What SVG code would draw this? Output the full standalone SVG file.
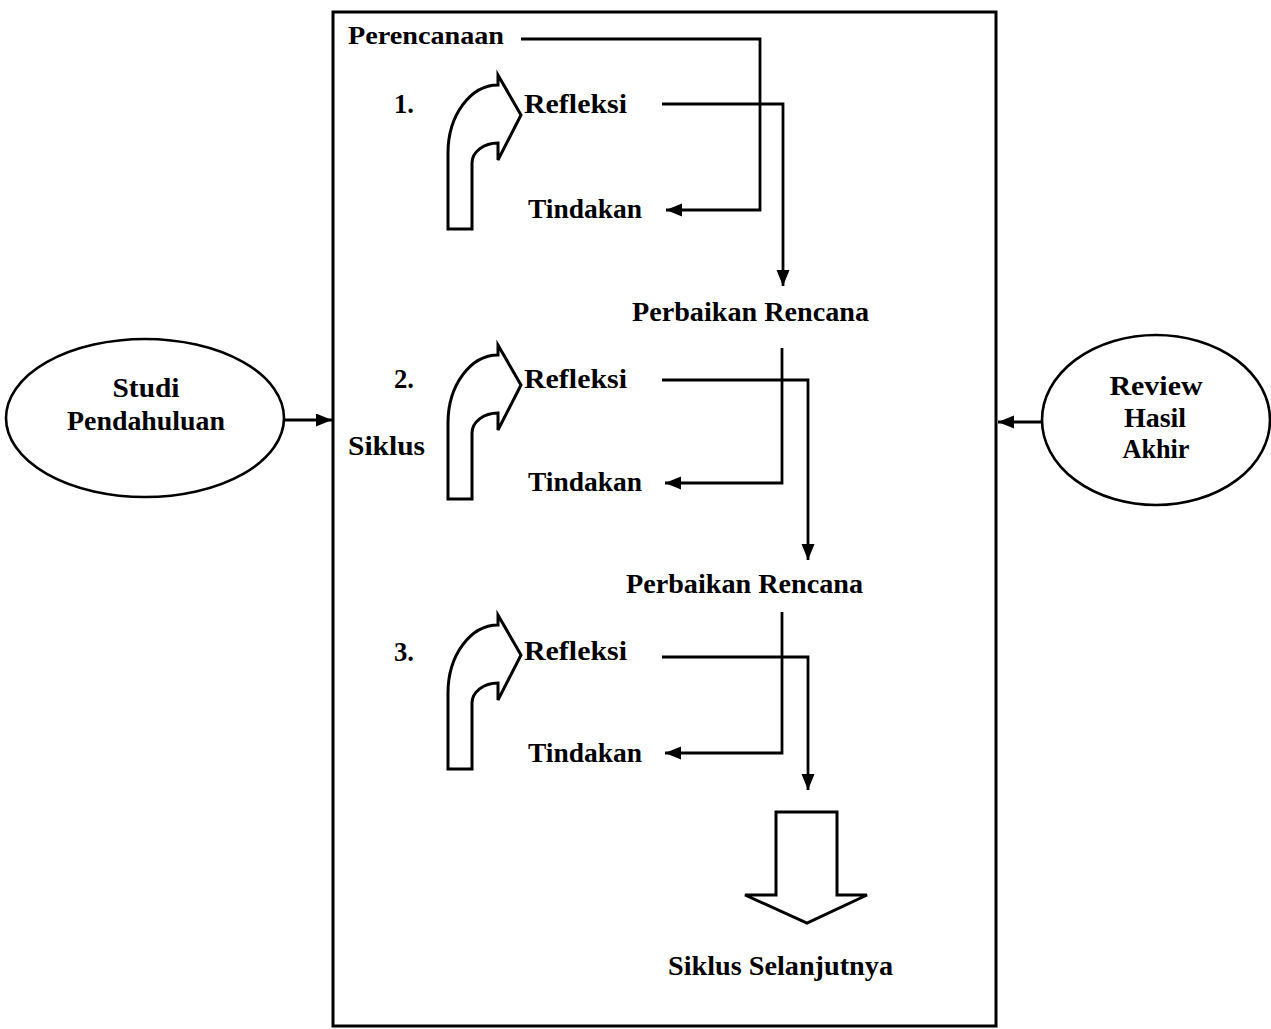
<svg xmlns="http://www.w3.org/2000/svg" width="1271" height="1029" viewBox="0 0 1271 1029">
<style>
text{font-family:"Liberation Serif","Times New Roman",serif;font-weight:bold;fill:#000;}
.t{font-size:28px;}
.c{stroke:#000;stroke-width:2.8;fill:none;}
.sh{stroke:#000;stroke-width:3;fill:#fff;stroke-linejoin:miter;}
</style>
<defs>
<marker id="ah" markerUnits="userSpaceOnUse" markerWidth="17" markerHeight="14" refX="16" refY="6.5" orient="auto">
<path d="M0,0 L16,6.5 L0,13 Z" fill="#000"/>
</marker>
<path id="curv" d="M448,229 L448,153 A50,68 0 0 1 498,85 L498,75 L521,115 L498,160 L498,143 A26,20 0 0 0 472,163 L472,229 Z"/>
</defs>
<rect width="1271" height="1029" fill="#fff"/>
<g id="frame"><rect x="333" y="12" width="663" height="1014" fill="none" stroke="#000" stroke-width="3"/></g>
<g id="studi">
<ellipse cx="145" cy="418" rx="139" ry="79" fill="#fff" stroke="#000" stroke-width="2.6"/>
<text class="t" x="146" y="397" text-anchor="middle" textLength="67" lengthAdjust="spacingAndGlyphs">Studi</text>
<text class="t" x="146" y="430" text-anchor="middle" textLength="158" lengthAdjust="spacingAndGlyphs">Pendahuluan</text>
</g>
<g id="review">
<ellipse cx="1156" cy="420" rx="114" ry="85" fill="#fff" stroke="#000" stroke-width="2.6"/>
<text class="t" x="1156" y="395" text-anchor="middle" textLength="93" lengthAdjust="spacingAndGlyphs">Review</text>
<text class="t" x="1155" y="427" text-anchor="middle">Hasil</text>
<text class="t" x="1156" y="458" text-anchor="middle" textLength="67" lengthAdjust="spacingAndGlyphs">Akhir</text>
</g>
<g id="perencanaan"><text x="348" y="44" font-size="26" textLength="156" lengthAdjust="spacingAndGlyphs">Perencanaan</text></g>
<g id="cycle1">
<use href="#curv" class="sh"/>
<text class="t" x="394" y="113" textLength="20" lengthAdjust="spacingAndGlyphs">1.</text>
<text class="t" x="524" y="113" textLength="103" lengthAdjust="spacingAndGlyphs">Refleksi</text>
<text class="t" x="528" y="218" textLength="114" lengthAdjust="spacingAndGlyphs">Tindakan</text>
</g>
<g id="rencana1"><text class="t" x="632" y="321" textLength="237" lengthAdjust="spacingAndGlyphs">Perbaikan Rencana</text></g>
<g id="cycle2">
<use href="#curv" class="sh" transform="translate(0,270)"/>
<text class="t" x="394" y="388" textLength="20" lengthAdjust="spacingAndGlyphs">2.</text>
<text class="t" x="524" y="388" textLength="103" lengthAdjust="spacingAndGlyphs">Refleksi</text>
<text class="t" x="348" y="455" textLength="77" lengthAdjust="spacingAndGlyphs">Siklus</text>
<text class="t" x="528" y="491" textLength="114" lengthAdjust="spacingAndGlyphs">Tindakan</text>
</g>
<g id="rencana2"><text class="t" x="626" y="593" textLength="237" lengthAdjust="spacingAndGlyphs">Perbaikan Rencana</text></g>
<g id="cycle3">
<use href="#curv" class="sh" transform="translate(0,540)"/>
<text class="t" x="394" y="661" textLength="20" lengthAdjust="spacingAndGlyphs">3.</text>
<text class="t" x="524" y="660" textLength="103" lengthAdjust="spacingAndGlyphs">Refleksi</text>
<text class="t" x="528" y="762" textLength="114" lengthAdjust="spacingAndGlyphs">Tindakan</text>
</g>
<g id="selanjutnya">
<polygon points="776,812 837,812 837,895 867,895 807,923 745,895 776,895" class="sh"/>
<text class="t" x="668" y="975" textLength="225" lengthAdjust="spacingAndGlyphs">Siklus Selanjutnya</text>
</g>
<g id="connectors">
<polyline class="c" points="521,39 760,39 760,210 666,210" marker-end="url(#ah)"/>
<polyline class="c" points="662,104 783,104 783,286" marker-end="url(#ah)"/>
<polyline class="c" points="782,348 782,483 665,483" marker-end="url(#ah)"/>
<polyline class="c" points="662,380 808,380 808,560" marker-end="url(#ah)"/>
<polyline class="c" points="782,612 782,753 665,753" marker-end="url(#ah)"/>
<polyline class="c" points="662,657 808,657 808,790" marker-end="url(#ah)"/>
<line class="c" x1="285" y1="420" x2="332" y2="420" marker-end="url(#ah)"/>
<line class="c" x1="1042" y1="422" x2="998" y2="422" marker-end="url(#ah)"/>
</g>
</svg>
